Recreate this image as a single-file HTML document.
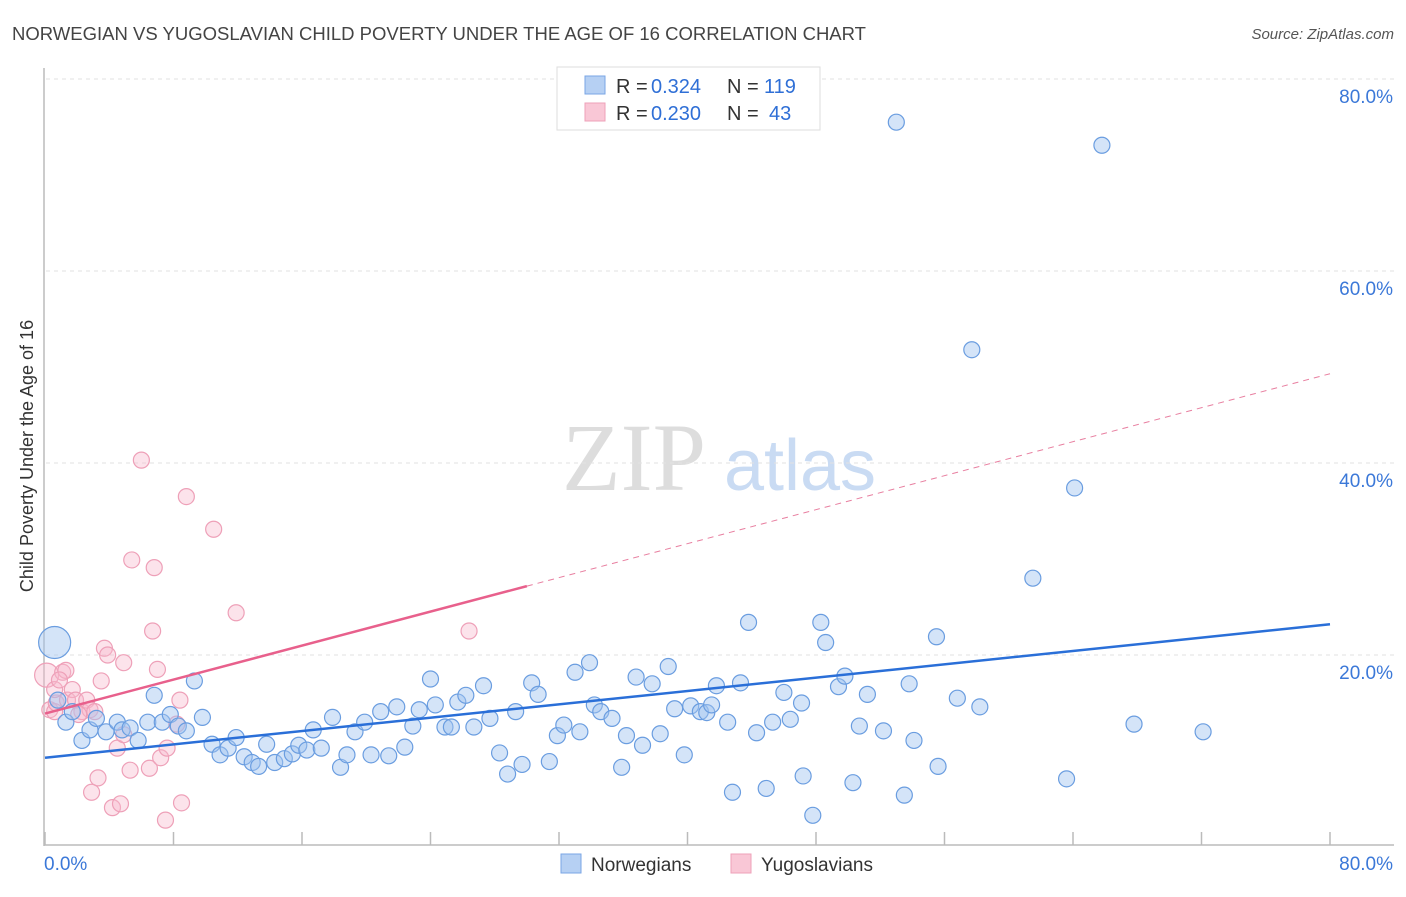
<!DOCTYPE html>
<html><head><meta charset="utf-8"><style>
body{margin:0;background:#fff;width:1406px;height:892px;overflow:hidden;font-family:"Liberation Sans",sans-serif}
</style></head><body>
<svg id="c" width="1406" height="892" xmlns="http://www.w3.org/2000/svg">
<text x="12" y="40" font-size="18" fill="#444" textLength="854" lengthAdjust="spacingAndGlyphs">NORWEGIAN VS YUGOSLAVIAN CHILD POVERTY UNDER THE AGE OF 16 CORRELATION CHART</text>
<text x="1394" y="39" font-size="15" fill="#555" font-style="italic" text-anchor="end">Source: ZipAtlas.com</text>
<text x="33" y="456" font-size="18" fill="#333" text-anchor="middle" transform="rotate(-90 33 456)">Child Poverty Under the Age of 16</text>
<g>
<text x="634" y="490" font-size="96" fill="#ddd" font-family="Liberation Serif,serif" text-anchor="middle">ZIP</text>
<text x="800" y="490" font-size="72" fill="#c9dbf3" text-anchor="middle">atlas</text>
</g>
<g id="grid"></g><g id="marks"></g>
<g>
<rect x="557" y="67" width="263" height="63" fill="#fff" stroke="#ddd"/>
<rect x="585" y="76" width="20" height="18" fill="#b6d0f3" stroke="#7aa6e4"/>
<rect x="585" y="103" width="20" height="18" fill="#f9c7d6" stroke="#eea0b8"/>
<text x="616" y="93" font-size="20" fill="#333">R =</text>
<text x="651" y="93" font-size="20" fill="#2f6fd6">0.324</text>
<text x="727" y="93" font-size="20" fill="#333">N =</text>
<text x="764" y="93" font-size="20" fill="#2f6fd6">119</text>
<text x="616" y="120" font-size="20" fill="#333">R =</text>
<text x="651" y="120" font-size="20" fill="#2f6fd6">0.230</text>
<text x="727" y="120" font-size="20" fill="#333">N =</text>
<text x="769" y="120" font-size="20" fill="#2f6fd6">43</text>
</g>
<g>
<rect x="561" y="854" width="20" height="19" fill="#b6d0f3" stroke="#7aa6e4"/>
<text x="591" y="871" font-size="19" fill="#333">Norwegians</text>
<rect x="731" y="854" width="20" height="19" fill="#f9c7d6" stroke="#eea0b8"/>
<text x="761" y="871" font-size="19" fill="#333">Yugoslavians</text>
</g>
</svg>
<script>
const yTicks=[20,40,60,80];
const xTickLabels=["0.0%","80.0%"];
const blueX=[0.6,0.8,1.3,1.7,2.3,2.8,3.2,3.8,4.5,4.8,5.3,5.8,6.4,6.8,7.3,7.8,8.3,8.8,9.3,9.8,10.4,10.9,11.4,11.9,12.4,12.9,13.3,13.8,14.3,14.9,15.4,15.8,16.3,16.7,17.2,17.9,18.4,18.8,19.3,19.9,20.3,20.9,21.4,21.9,22.4,22.9,23.3,24.0,24.3,24.9,25.3,25.7,26.2,26.7,27.3,27.7,28.3,28.8,29.3,29.7,30.3,30.7,31.4,31.9,32.3,33.0,33.3,33.9,34.2,34.6,35.3,35.9,36.2,36.8,37.2,37.8,38.3,38.8,39.2,39.8,40.2,40.8,41.2,41.5,41.8,42.5,42.8,43.3,43.8,44.3,44.9,45.3,46.0,46.4,47.1,47.2,47.8,48.3,48.6,49.4,49.8,50.3,50.7,51.2,52.2,53.0,53.5,53.8,54.1,55.5,55.6,56.8,57.7,58.2,61.5,63.6,64.1,65.8,67.8,72.1];
const blueY=[21.3,15.3,13.0,14.1,11.1,12.2,13.4,12.0,13.0,12.2,12.4,11.1,13.0,15.8,13.0,13.8,12.6,12.1,17.3,13.5,10.7,9.6,10.3,11.4,9.4,8.8,8.4,10.7,8.8,9.2,9.7,10.6,10.1,12.2,10.3,13.5,8.3,9.6,12.0,13.0,9.6,14.1,9.5,14.6,10.4,12.6,14.3,17.5,14.8,12.5,12.5,15.1,15.8,12.5,16.8,13.4,9.8,7.6,14.1,8.6,17.1,15.9,8.9,11.6,12.7,18.2,12.0,19.2,14.8,14.1,13.4,8.3,11.6,17.7,10.6,17.0,11.8,18.8,14.4,9.6,14.7,14.1,14.0,14.8,16.8,13.0,5.7,17.1,23.4,11.9,6.1,13.0,16.1,13.3,15.0,7.4,3.3,23.4,21.3,16.7,17.8,6.7,12.6,15.9,12.1,75.5,5.4,17.0,11.1,21.9,8.4,15.5,51.8,14.6,28.0,7.1,37.4,73.1,12.8,12.0];
const pinkX=[0.1,0.3,0.6,0.7,1.1,1.3,1.4,1.7,1.9,2.3,2.6,2.8,2.9,3.1,3.3,3.5,3.7,3.9,4.2,4.5,4.7,4.9,5.3,5.4,6.0,6.5,6.7,6.8,7.0,7.2,7.5,7.6,8.2,8.4,8.5,8.8,10.5,11.9,26.4,0.6,0.9,2.1,4.9];
const pinkY=[17.9,14.3,14.1,15.0,18.2,18.4,15.3,16.4,15.3,14.1,15.3,14.3,5.7,14.1,7.2,17.3,20.7,20.0,4.1,10.3,4.5,19.2,8.0,29.9,40.3,8.2,22.5,29.1,18.5,9.3,2.8,10.3,12.8,15.3,4.6,36.5,33.1,24.4,22.5,16.4,17.4,13.8,11.7];
const blueTrend=[9.3,23.2];
const pinkTrend=[13.9,49.3];
const pinkSolidEnd=30;
const X=v=>45+v*(1285/80), Y=v=>847-v*9.6;
const NS="http://www.w3.org/2000/svg";
const grid=document.getElementById('grid'), marks=document.getElementById('marks');
function mk(p,tag,a){const e=document.createElementNS(NS,tag);for(const k in a)e.setAttribute(k,a[k]);p.appendChild(e);return e;}
let ax=mk(grid,'line',{x1:44,y1:68,x2:44,y2:846,stroke:'#bbb','stroke-width':1.5});


let bx=mk(grid,'line',{x1:44,y1:845,x2:1394,y2:845,stroke:'#bbb','stroke-width':1.5});


yTicks.forEach(t=>{
 const g=mk(grid,'line',{x1:46,x2:1394,y1:Y(t),y2:Y(t),stroke:'#e2e2e2','stroke-dasharray':'4 4'});
 
 
 const tx=mk(grid,'text',{x:1393,y:Y(t)+24,'font-size':19,fill:'#3b78d8','text-anchor':'end'});
 tx.textContent=t.toFixed(1)+'%';
 
 
});
for(let i=0;i<=10;i++){
 const t=mk(grid,'line',{x1:X(i*8),x2:X(i*8),y1:832,y2:845,stroke:'#bbb','stroke-width':1.5});
 
 
}
const l0=mk(grid,'text',{x:44,y:870,'font-size':19,fill:'#3b78d8'});l0.textContent=xTickLabels[0];


const l1=mk(grid,'text',{x:1393,y:870,'font-size':19,fill:'#3b78d8','text-anchor':'end'});l1.textContent=xTickLabels[1];


pinkX.forEach((x,i)=>{
 const c=mk(marks,'circle',{cx:X(x),cy:Y(pinkY[i]),r:i==0?12:8,fill:'rgba(247,185,205,0.4)',stroke:'#eea0b8','stroke-width':1.2});
 
 
});
blueX.forEach((x,i)=>{
 const c=mk(marks,'circle',{cx:X(x),cy:Y(blueY[i]),r:i==0?16:8,fill:'rgba(160,195,240,0.45)',stroke:'#6a9de0','stroke-width':1.2});
 
 
});
const ps=(pinkTrend[1]-pinkTrend[0])/80;
const pd=mk(marks,'line',{x1:X(pinkSolidEnd),y1:Y(pinkTrend[0]+ps*pinkSolidEnd),x2:X(80),y2:Y(pinkTrend[1]),stroke:'#e87fa0','stroke-width':1,'stroke-dasharray':'6 5'});


const pl=mk(marks,'line',{x1:X(0),y1:Y(pinkTrend[0]),x2:X(pinkSolidEnd),y2:Y(pinkTrend[0]+ps*pinkSolidEnd),stroke:'#e8608c','stroke-width':2.5});


const bl=mk(marks,'line',{x1:X(0),y1:Y(blueTrend[0]),x2:X(80),y2:Y(blueTrend[1]),stroke:'#2a6fd8','stroke-width':2.5});


</script>
</body></html>
